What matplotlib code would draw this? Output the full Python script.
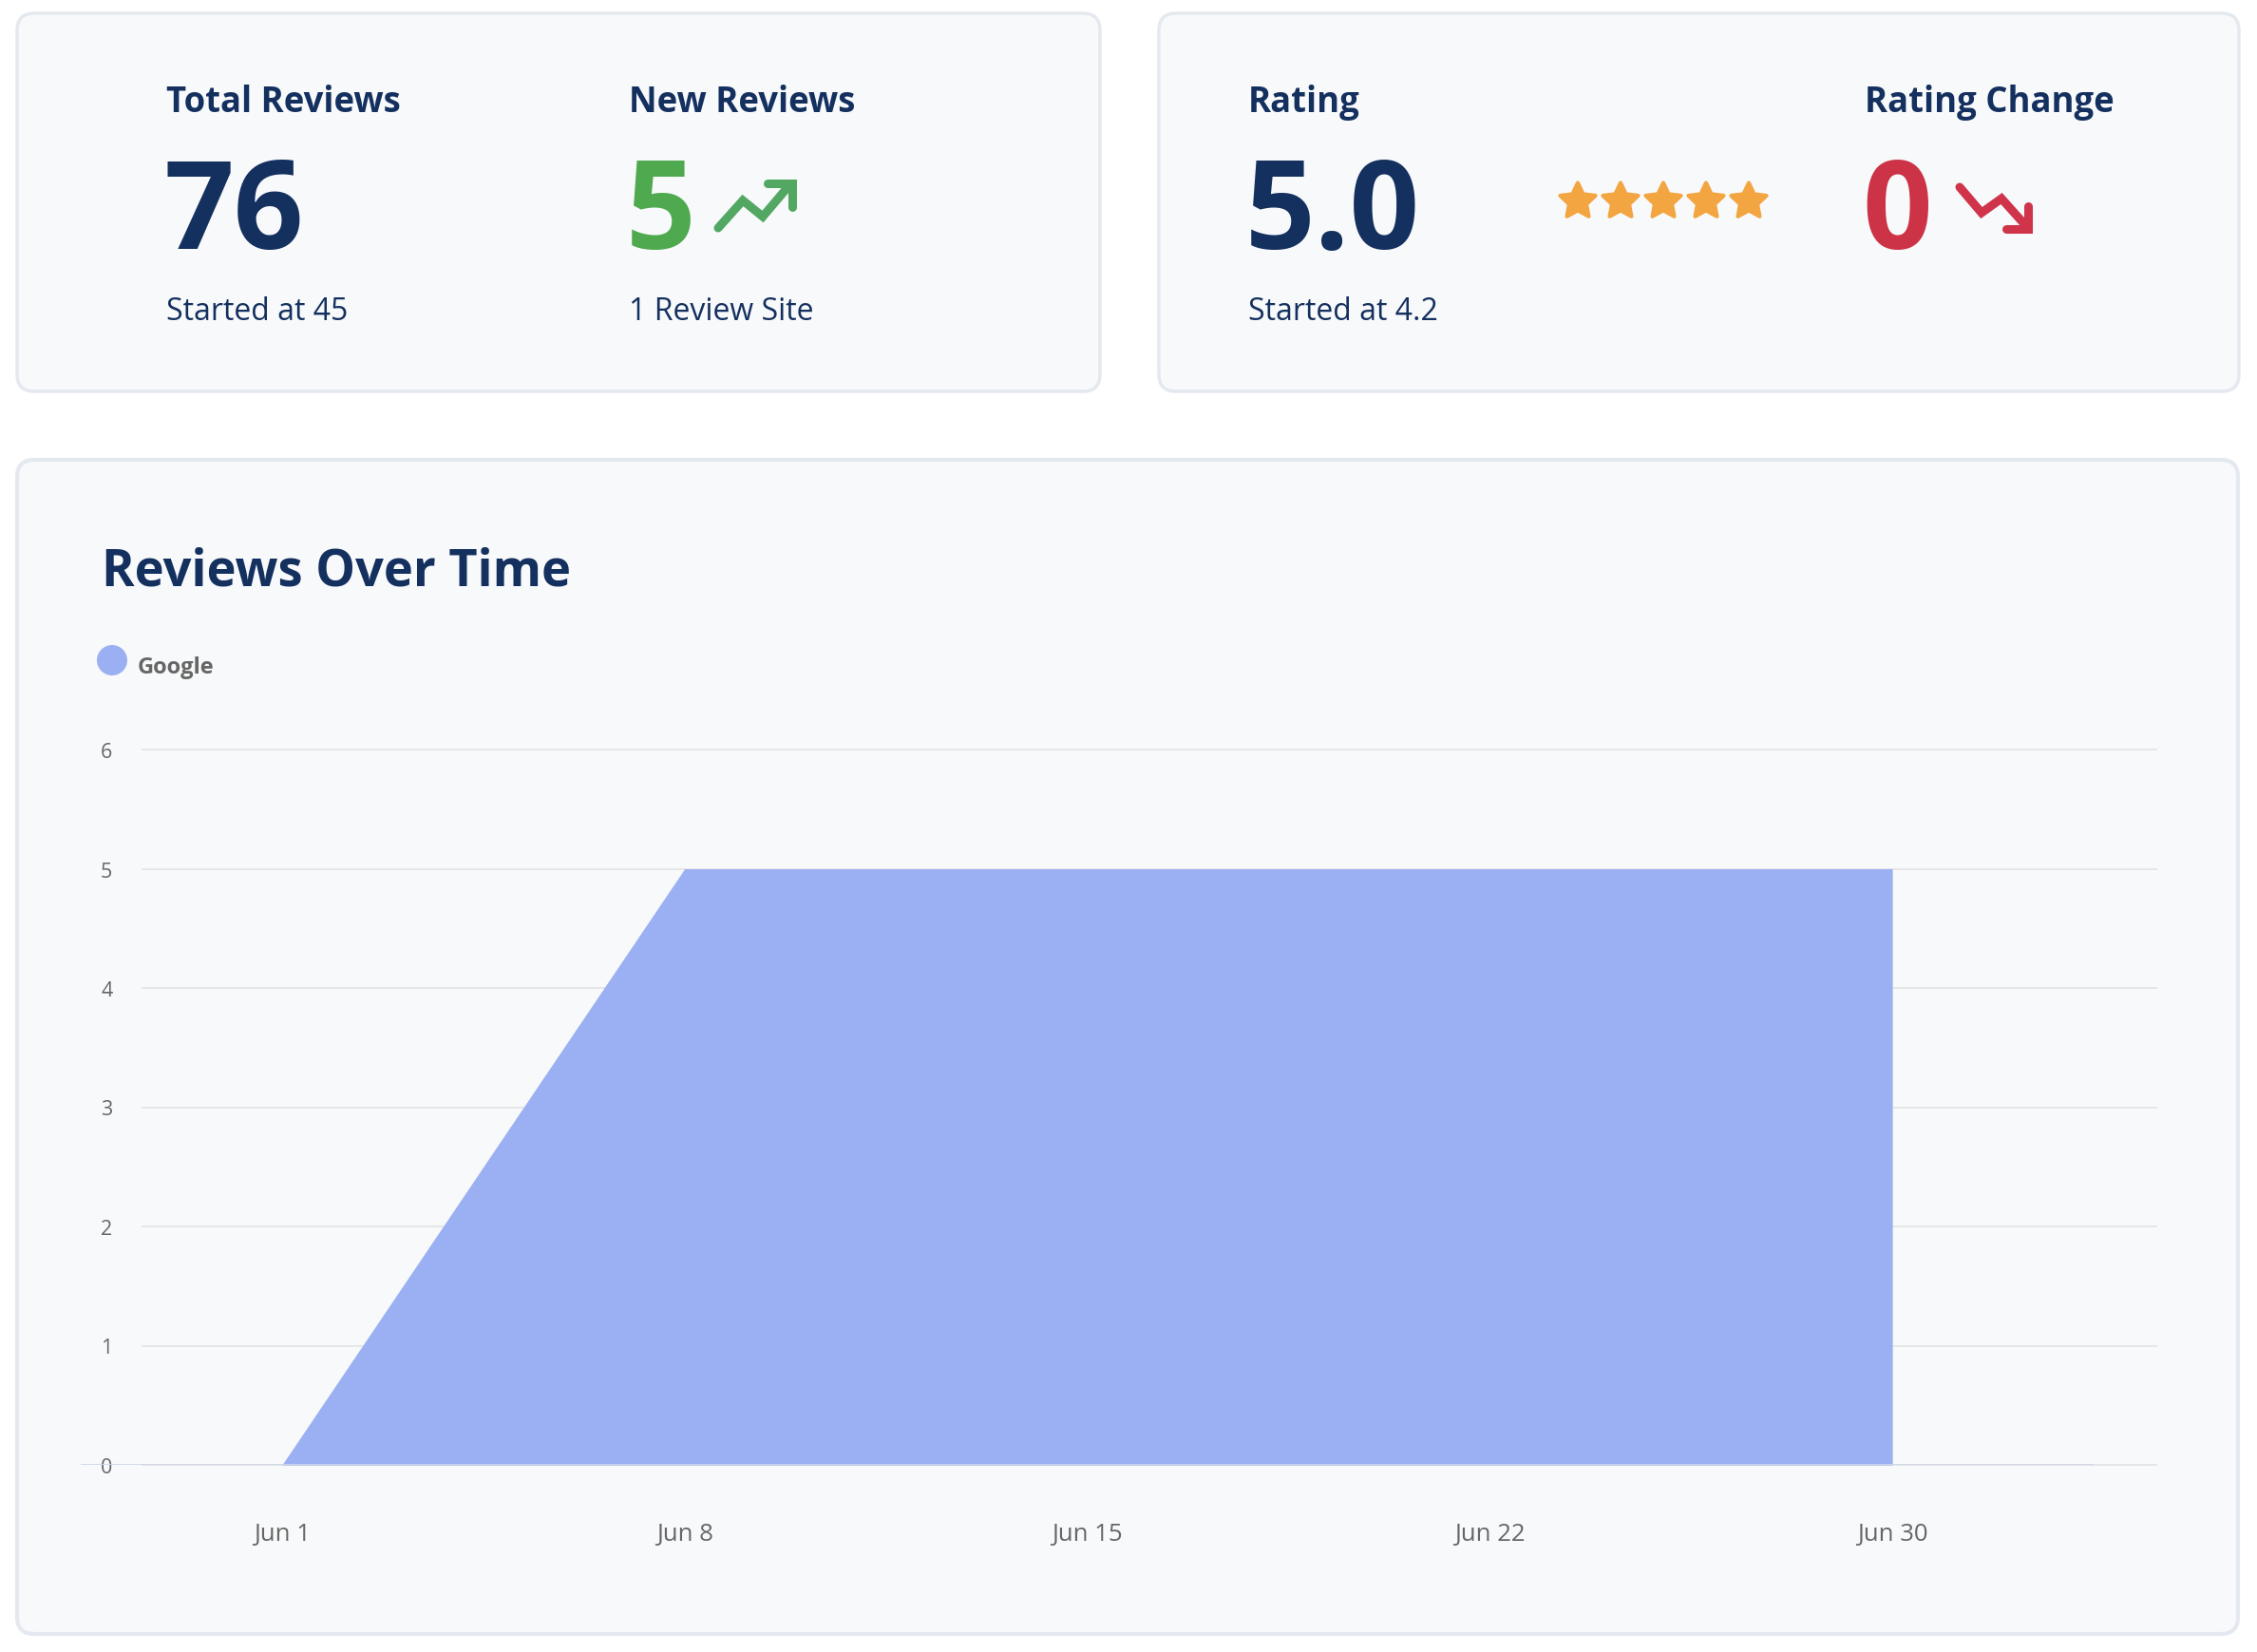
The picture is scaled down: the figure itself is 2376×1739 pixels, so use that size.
import numpy as np
import matplotlib
matplotlib.use("Agg")
import matplotlib.pyplot as plt
from matplotlib.patches import FancyBboxPatch, Circle, Polygon

plt.rcParams['font.family'] = ['Open Sans', 'DejaVu Sans']

# DATA
card_titles = ['Total Reviews', 'New Reviews', 'Rating', 'Rating Change']
card_values = ['76', '5', '5.0', '0']
card_notes = ['Started at 45', '1 Review Site', 'Started at 4.2', '']
rating = 5.0

dates = ['Jun 1', 'Jun 8', 'Jun 15', 'Jun 22', 'Jun 30']
google_reviews = [0, 5, 5, 5, 5]
y_ticks = [0, 1, 2, 3, 4, 5, 6]

# COLOURS
NAVY = '#14305f'
GREEN = '#4faa4f'
RED = '#cc3347'
STAR = '#f2a541'
AREA = '#9bb0f2'
CARD_BG = '#f8f9fb'
CARD_EDGE = '#e4e9ef'

W, H = 2376, 1740
fig = plt.figure(figsize=(W / 100, H / 100), dpi=100)
fig.patch.set_facecolor('white')

# OVERLAY IN PIXEL COORDS
bg = fig.add_axes([0, 0, 1, 1])
bg.set_xlim(0, W)
bg.set_ylim(H, 0)
bg.axis('off')


def card(x0, y0, x1, y1, lw=2.5):
    bg.add_patch(FancyBboxPatch((x0, y0), x1 - x0, y1 - y0,
                                boxstyle='round,pad=0,rounding_size=18',
                                fc=CARD_BG, ec=CARD_EDGE, lw=lw, zorder=0))


card(18, 15, 1158, 413)
card(1220, 15, 2357, 413)
card(18, 485, 2356, 1721, lw=3)

# KPI TEXT
value_colors = [NAVY, GREEN, NAVY, RED]
kpi_x = [175, 662, 1314, 1963]
for i in range(4):
    bg.text(kpi_x[i], 118, card_titles[i], fontsize=26.3, fontweight='bold',
            color=NAVY, va='baseline')
    bg.text(kpi_x[i] - 3, 262, card_values[i], fontsize=93, fontweight='bold',
            color=value_colors[i], va='baseline')
    if card_notes[i]:
        bg.text(kpi_x[i], 337, card_notes[i], fontsize=23, color=NAVY,
                va='baseline')

# TREND ICONS
up_line = np.array([[756, 241], [782, 212], [803, 229], [831, 196]])
up_head = np.array([[808, 194], [834, 194], [834, 219]])
bg.plot(up_line[:, 0], up_line[:, 1], color='#52a862', lw=6.5,
        solid_capstyle='round', solid_joinstyle='miter')
bg.plot(up_head[:, 0], up_head[:, 1], color='#52a862', lw=6.5,
        solid_capstyle='round', solid_joinstyle='miter')

down_line = np.array([[2063, 198], [2086, 225], [2107, 210], [2133, 239]])
down_head = np.array([[2135, 218], [2135, 242], [2112, 242]])
bg.plot(down_line[:, 0], down_line[:, 1], color='#cf344b', lw=6.5,
        solid_capstyle='round', solid_joinstyle='miter')
bg.plot(down_head[:, 0], down_head[:, 1], color='#cf344b', lw=6.5,
        solid_capstyle='round', solid_joinstyle='miter')

# STARS
R, r = 19.5, 9.5
ang = np.pi / 2 + np.arange(10) * np.pi / 5
rad = np.where(np.arange(10) % 2 == 0, R, r)
for k in range(int(round(rating))):
    cx, cy = 1661 + 45 * k, 213
    pts = np.column_stack([cx + rad * np.cos(ang), cy - rad * np.sin(ang)])
    bg.add_patch(Polygon(pts, closed=True, fc=STAR, ec=STAR, lw=3,
                         joinstyle='round'))

# CHART TITLE AND LEGEND
bg.text(107, 617, 'Reviews Over Time', fontsize=37.8, fontweight='bold',
        color=NAVY, va='baseline')
bg.add_patch(Circle((118, 696), 16, fc=AREA, ec='none'))
bg.text(145, 709, 'Google', fontsize=17, fontweight='bold', color='#666666',
        va='baseline')

# AREA CHART
left, right, y0, y6 = 85, 2204, 1543, 790
ax = fig.add_axes([left / W, (H - y0) / H, (right - left) / W, (y0 - y6) / H])
ax.patch.set_alpha(0)
x = np.arange(len(dates))
ax.fill_between(x, google_reviews, color=AREA, lw=0, zorder=2)
ax.set_xlim(-0.5, len(dates) - 0.5)
ax.set_ylim(0, 6)

gx0 = (150 - left) / (right - left)
gx1 = (2270 - left) / (right - left)
for yv in y_ticks:
    ax.axhline(yv, xmin=gx0, xmax=gx1, color='#e6e6e6', lw=1.4,
               clip_on=False, zorder=1)
ax.axhline(0, color='#ccd6eb', lw=2, zorder=3)

for s in ax.spines.values():
    s.set_visible(False)
ax.set_xticks(x)
ax.set_xticklabels(dates)
ax.set_yticks(y_ticks)
ax.set_yticklabels([str(v) for v in y_ticks])
ax.tick_params(axis='x', length=0, pad=43, labelsize=18.5, labelcolor='#666666')
ax.tick_params(axis='y', length=0, pad=-24, labelsize=15.5, labelcolor='#666666')

fig.savefig('out.png', dpi=100, facecolor='white')
